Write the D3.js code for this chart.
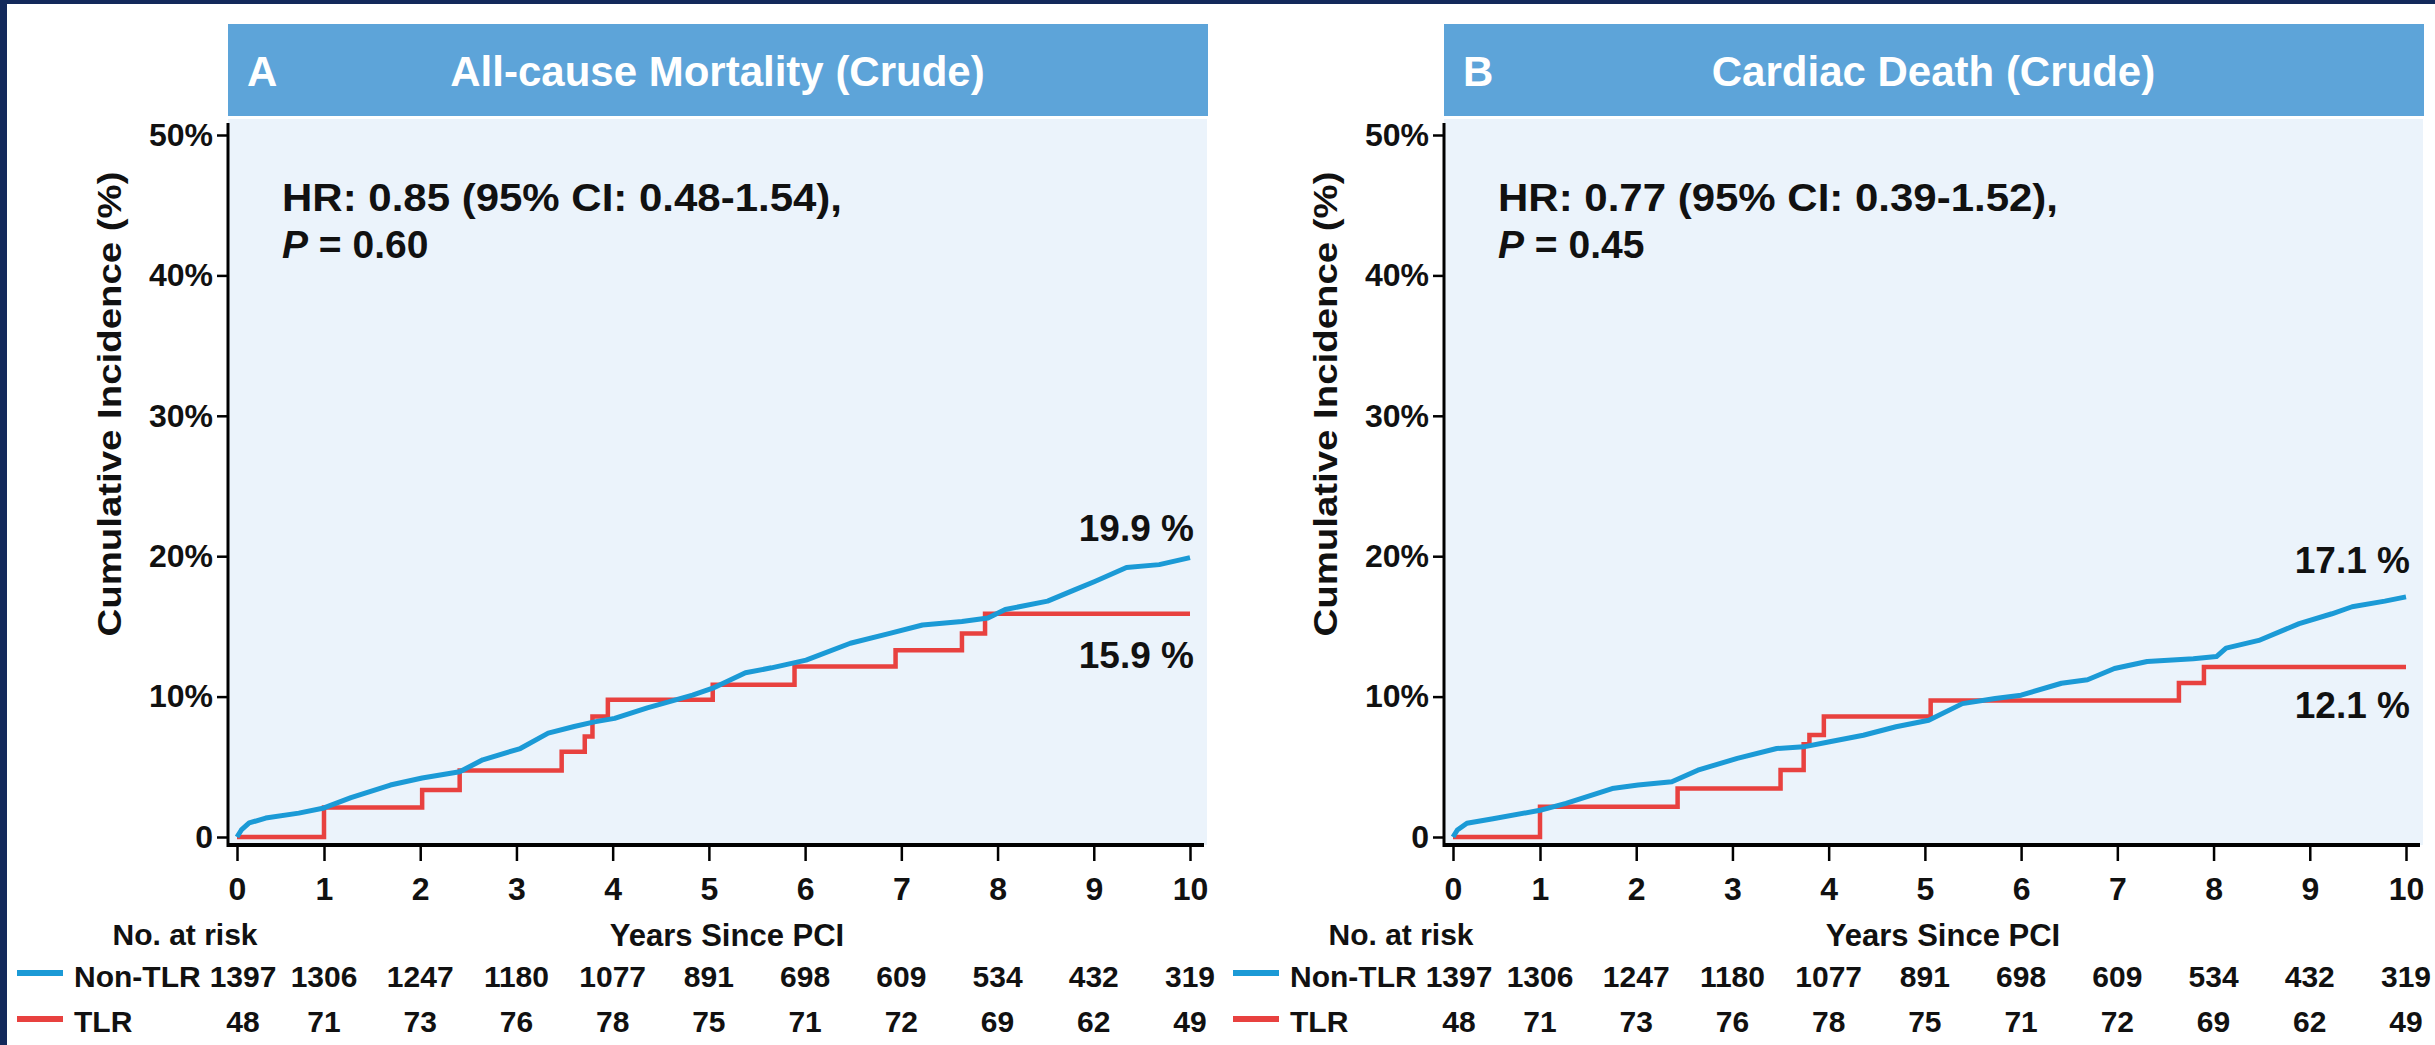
<!DOCTYPE html>
<html>
<head>
<meta charset="utf-8">
<script src="https://cdn.jsdelivr.net/npm/d3@7"></script>
<style>
  html, body { margin: 0; padding: 0; background: #ffffff; }
  svg { display: block; }
  text { font-family: "Liberation Sans", Arial, Helvetica, sans-serif; font-weight: bold; }
</style>
</head>
<body>
<svg id="chart" width="2435" height="1045"></svg>
<script>
// ---------------- DATA ----------------
const years = [0, 1, 2, 3, 4, 5, 6, 7, 8, 9, 10];
const yTickValues = [0, 10, 20, 30, 40, 50];
const yTickLabels = ["0", "10%", "20%", "30%", "40%", "50%"];
const panelLetters = ["A", "B"];
const panelTitles = ["All-cause Mortality (Crude)", "Cardiac Death (Crude)"];
const hrTexts = ["HR: 0.85 (95% CI: 0.48-1.54),", "HR: 0.77 (95% CI: 0.39-1.52),"];
const pTexts = ["0.60", "0.45"];
const groupNames = ["Non-TLR", "TLR"];
const atRiskNonTLR = [1397, 1306, 1247, 1180, 1077, 891, 698, 609, 534, 432, 319];
const atRiskTLR = [48, 71, 73, 76, 78, 75, 71, 72, 69, 62, 49];
const endLabelsNonTLR = ["19.9 %", "17.1 %"];
const endLabelsTLR = ["15.9 %", "12.1 %"];

// Panel A: all-cause mortality, [years, cumulative incidence %]
const mortalityNonTLR = [
  [0, 0], [0.05, 0.5], [0.14, 1.0], [0.33, 1.35], [0.71, 1.7], [1.0, 2.07], [1.28, 2.8],
  [1.69, 3.7], [2.02, 4.2], [2.41, 4.65], [2.65, 5.5], [3.04, 6.3], [3.33, 7.4], [3.6, 7.87],
  [3.81, 8.2], [4.02, 8.45], [4.36, 9.2], [4.83, 10.1], [5.04, 10.6], [5.38, 11.7],
  [5.65, 12.05], [6.01, 12.6], [6.47, 13.8], [6.88, 14.5], [7.22, 15.1], [7.63, 15.35],
  [7.9, 15.6], [8.08, 16.2], [8.52, 16.8], [8.8, 17.6], [9.01, 18.2], [9.34, 19.2],
  [9.68, 19.4], [10, 19.9]
];
const mortalityTLR = [
  [0, 0], [1.0, 2.1], [2.02, 3.35], [2.41, 4.73], [3.47, 6.08], [3.71, 7.15], [3.79, 8.58],
  [3.95, 9.77], [5.04, 10.84], [5.89, 12.15], [6.94, 13.3], [7.63, 14.5], [7.87, 15.9], [10, 15.9]
];
// Panel B: cardiac death
const cardiacNonTLR = [
  [0, 0], [0.05, 0.5], [0.16, 0.98], [0.46, 1.3], [1.0, 1.9], [1.27, 2.4], [1.75, 3.45],
  [2.02, 3.7], [2.37, 3.93], [2.64, 4.76], [3.05, 5.6], [3.46, 6.3], [3.74, 6.42],
  [4.01, 6.78], [4.36, 7.25], [4.7, 7.85], [5.04, 8.32], [5.39, 9.5], [5.73, 9.87],
  [6.0, 10.1], [6.42, 10.95], [6.69, 11.2], [6.97, 12.0], [7.31, 12.5], [7.79, 12.7],
  [8.03, 12.85], [8.13, 13.45], [8.47, 14.0], [8.89, 15.2], [9.23, 15.9], [9.44, 16.4],
  [9.78, 16.8], [10, 17.1]
];
const cardiacTLR = [
  [0, 0], [1.0, 2.16], [2.43, 3.45], [3.5, 4.78], [3.74, 6.6], [3.8, 7.27], [3.95, 8.58],
  [5.06, 9.72], [7.64, 10.96], [7.9, 12.1], [10, 12.1]
];

const nonTLRSeries = [mortalityNonTLR, cardiacNonTLR];
const tlrSeries = [mortalityTLR, cardiacTLR];

// ---------------- STYLE ----------------
const NAVY = "#13295b";
const HEADER = "#5da4d9";
const PLOTBG = "#ebf3fb";
const BLUE = "#1b9ad6";
const RED = "#e8413f";
const FONT = '"Liberation Sans", Arial, Helvetica, sans-serif';

const svg = d3.select("#chart");
svg.append("rect").attr("x", 0).attr("y", 0).attr("width", 2435).attr("height", 1045).attr("fill", "#ffffff");

const panelOffsets = [0, 1216];

function drawPanel(i) {
  const dx = panelOffsets[i];
  const g = svg.append("g").attr("transform", `translate(${dx},0)`);

  const x = d3.scaleLinear().domain([0, 1, 10]).range([237, 324, 1190]);
  const y = d3.scaleLinear().domain([0, 50]).range([837, 135]);

  const axisX = 228, axisY = 845, plotRight = 1207;

  // header
  g.append("rect").attr("x", axisX).attr("y", 24).attr("width", plotRight - axisX + 1).attr("height", 92)
    .attr("fill", HEADER);
  g.append("text").attr("x", 247).attr("y", 86).attr("fill", "#fff").attr("font-size", 42).text(panelLetters[i]);
  g.append("text").attr("x", (axisX + plotRight) / 2).attr("y", 86).attr("text-anchor", "middle")
    .attr("fill", "#fff").attr("font-size", 42).text(panelTitles[i]);

  // plot background
  g.append("rect").attr("x", axisX).attr("y", 119).attr("width", plotRight - axisX).attr("height", axisY - 119)
    .attr("fill", PLOTBG);

  // y axis
  const yAxis = d3.axisLeft(y).tickValues(yTickValues)
    .tickFormat((d, k) => yTickLabels[k]).tickSize(11).tickPadding(4);
  const ya = g.append("g").attr("transform", `translate(${axisX},0)`).call(yAxis);
  ya.select(".domain").remove();
  ya.selectAll(".tick line").attr("stroke", "#000").attr("stroke-width", 2.5);
  ya.selectAll(".tick text").attr("font-size", 32).attr("font-family", FONT).attr("font-weight", "bold")
    .attr("fill", "#111");
  g.append("line").attr("x1", axisX).attr("x2", axisX).attr("y1", y(50) - 12).attr("y2", axisY + 2)
    .attr("stroke", "#000").attr("stroke-width", 3);

  // x axis
  const xAxis = d3.axisBottom(x).tickValues(years).tickFormat(d3.format("d")).tickSize(16).tickPadding(16);
  const xa = g.append("g").attr("transform", `translate(0,${axisY})`).call(xAxis);
  xa.select(".domain").remove();
  xa.selectAll(".tick line").attr("stroke", "#000").attr("stroke-width", 2.5);
  xa.selectAll(".tick text").attr("font-size", 32).attr("font-family", FONT).attr("font-weight", "bold")
    .attr("fill", "#111");
  g.append("line").attr("x1", axisX - 1).attr("x2", plotRight - 3).attr("y1", axisY).attr("y2", axisY)
    .attr("stroke", "#000").attr("stroke-width", 4);

  // y axis title
  g.append("text").attr("transform", `translate(121,404) rotate(-90)`).attr("text-anchor", "middle")
    .attr("font-size", 34).attr("fill", "#111")
    .attr("textLength", 465).attr("lengthAdjust", "spacingAndGlyphs")
    .text("Cumulative Incidence (%)");

  // HR annotation
  g.append("text").attr("x", 282).attr("y", 211).attr("font-size", 39).attr("fill", "#111")
    .attr("textLength", 560).attr("lengthAdjust", "spacingAndGlyphs")
    .text(hrTexts[i]);
  const pt = g.append("text").attr("x", 282).attr("y", 258).attr("font-size", 39).attr("fill", "#111");
  pt.append("tspan").attr("font-style", "italic").text("P");
  pt.append("tspan").text(" = " + pTexts[i]);

  // curves
  const line = d3.line().x(d => x(d[0])).y(d => y(d[1]));
  const stepLine = d3.line().x(d => x(d[0])).y(d => y(d[1])).curve(d3.curveStepAfter);
  g.append("path").datum(tlrSeries[i]).attr("d", stepLine).attr("fill", "none")
    .attr("stroke", RED).attr("stroke-width", 4.5).attr("stroke-linejoin", "miter");
  g.append("path").datum(nonTLRSeries[i]).attr("d", line).attr("fill", "none")
    .attr("stroke", BLUE).attr("stroke-width", 5).attr("stroke-linejoin", "round");

  // end labels
  const lastB = nonTLRSeries[i][nonTLRSeries[i].length - 1];
  const lastR = tlrSeries[i][tlrSeries[i].length - 1];
  const blueOff = i === 0 ? -17 : -24;
  const redOff = i === 0 ? 54 : 51;
  g.append("text").attr("x", 1194).attr("y", y(lastB[1]) + blueOff).attr("text-anchor", "end")
    .attr("font-size", 37).attr("fill", "#111").text(endLabelsNonTLR[i]);
  g.append("text").attr("x", 1194).attr("y", y(lastR[1]) + redOff).attr("text-anchor", "end")
    .attr("font-size", 37).attr("fill", "#111").text(endLabelsTLR[i]);

  // at-risk table
  g.append("text").attr("x", 185).attr("y", 945).attr("text-anchor", "middle").attr("font-size", 30)
    .attr("fill", "#111").text("No. at risk");
  g.append("text").attr("x", 727).attr("y", 946).attr("text-anchor", "middle").attr("font-size", 31)
    .attr("fill", "#111").text("Years Since PCI");

  const rows = [
    { name: groupNames[0], vals: atRiskNonTLR, color: BLUE, base: 987, ly: 973 },
    { name: groupNames[1], vals: atRiskTLR, color: RED, base: 1032, ly: 1019 }
  ];
  rows.forEach(r => {
    g.append("line").attr("x1", 17).attr("x2", 63).attr("y1", r.ly).attr("y2", r.ly)
      .attr("stroke", r.color).attr("stroke-width", 6);
    g.append("text").attr("x", 74).attr("y", r.base).attr("font-size", 30).attr("fill", "#111").text(r.name);
    g.selectAll(null).data(r.vals).enter().append("text")
      .attr("x", (d, k) => x(years[k]) + (k === 0 ? 6 : 0))
      .attr("y", r.base).attr("text-anchor", "middle").attr("font-size", 30).attr("fill", "#111")
      .text(d => d);
  });
}

drawPanel(0);
drawPanel(1);

// navy frame
svg.append("rect").attr("x", 0).attr("y", 0).attr("width", 2435).attr("height", 4).attr("fill", NAVY);
svg.append("rect").attr("x", 0).attr("y", 0).attr("width", 7).attr("height", 1045).attr("fill", NAVY);
</script>
</body>
</html>
